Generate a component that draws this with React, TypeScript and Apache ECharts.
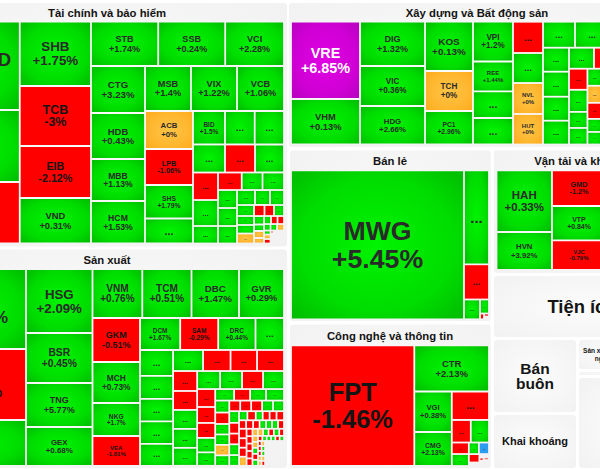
import React, { useEffect, useRef } from "react";
import * as echarts from "echarts";

const D = "...";
const FONT = '"Liberation Sans", Arial, sans-serif';

// Finance
const financeTickers = ["ID",null,null,"SHB","TCB","EIB","VND","STB","SSB","VCI","CTG","HDB","MBB","HCM","MSB","VIX","VCB","ACB","LPB","SHS",D,"BID",D,D,D,D,D,D,D,D,D,D,D,D,D,D,D,D,D,D,D,D,D,D,D,D,D,D,D,D,D,D,D,D,D,D,D,D,D,D,null,null];
const financeChanges = [1,1,-1,1.75,-3,-2.12,0.31,1.74,0.24,2.28,3.23,0.43,1.13,1.53,1.4,1.22,1.06,0,-1.06,1.79,1,1.5,1,1,1,-1,1,-1,1,1,-1,1,1,1,1,1,1,1,1,1,1,1,0,-1,-1,1,1,1,0,0,1,-1,-1,1,1,0,-1,1,0,-1,null,null];
const financeSizes = [7925,6462,5520,4581,4275,3705,3242,2977,2968,2605,2538,2484,2268,2295,2070,2070,2115,1824,1728,1608,1200,1072,995,982,896,840,812,688,650,438,415,364,376,342,342,332,270,225,210,187,153,145,170,115,105,110,85,65,70,55,56,52,52,42,26,29,29,42,45,9,30,136];
const financeRows = [3,4,3,4,3,4,3,3,3,3,3,3,4,3,4,3,4,2,2,1];

// Construction and real estate
const buildTickers = ["VRE","VHM","DIG","VIC","HDG","KOS","TCH","PC1","VPI","REE",D,D,D,D,"NVL","HUT",D,D,D,D,D,D,D,D,D,D,D,D,D,D,D,D,D,D,D,D,D,D,null];
const buildChanges = [6.85,0.13,1.32,0.36,2.66,0.13,0,2.96,1.2,1.44,1,1,-1,1,0,0,1,1,1,1,1,1,1,1,1,-1,1,1,-1,1,1,1,1,0,-1,1,1,1];
const buildSizes = [5334,3139,2880,2600,2503,2366,1920,1608,1592,1196,1064,1060,939,900,930,915,832,884,728,728,624,650,624,619,525,504,504,483,389,407,296,305,246,246,232,188,181,4790];
const buildRows = [2,3,3,4,4,4,4,4,4,5,1];

// Manufacturing
const makeTickers = ["%","%",null,"HSG","BSR","TNG","GEX","VNM","TCM","DBC","GVR","GKM","MCH","NKG","VEA","DCM","SAM","DRC",D,
  D,D,D,D,D, D,D,D,D, D,D,D,D,D, D,D,D,D, D,D,D,D,D, D,D,D,D, D,D,D,D,D,D, D,D,D,D,D, D,D,D,D,D, D,D,D,D,D,D, D,D,D,D,D,D,D, D,D,D,D, D,D,D,D,D, D,D,D,D,D,D, D,D,D,D,D, D,D,D,D,D,D, D,D,D,D,D, D,null, D,D,D,D, null];
const makeChanges = [1,-1,1,2.09,0.45,5.77,0.68,0.76,0.51,1.47,0.29,-0.51,0.73,1.7,-1.81,1.67,-0.29,0.44,1,
  1,1,1,1,1, 1,-1,-1,-1, -1,-1,1,1,1, 1,1,-1,1, -1,-1,-1,1,1, 1,-1,1,1, 1,-1,1,1,0,1, -1,-1,-1,1,1, 1,-1,-1,1,1, 1,-1,1,-1,-1,-1, -1,-1,-1,1,1,1,-1, -1,-1,-1,0, -1,-1,-1,-1,-1, 0,0,1,-1,1,-1, 0,0,1,-1,1, -1,1,1,1,-1,1, -1,-1,-1,0,0, 0,null, 1,1,0,-1, null];
const makeSizes = [7661,6816,4397,4243,3325,2926,2580,2430,2401,2318,2196,2090,1948,1568,1416,1286,1216,1194,912,
  858,759,743,743,726, 630,578,557,567, 480,456,456,456,432, 414,396,378,378, 324,288,270,261,243, 218,184,184,207, 168,161,147,147,147,147, 116,116,116,116,116, 114,105,105,105,105, 76,76,63,63,63,68, 60,60,55,55,51,51,51, 71,71,68,68, 44,44,44,44,44, 38,38,38,38,38,34, 33,33,33,33,33, 22,22,22,22,22,22, 17.5,17.5,17.5,17.5,17.5, 17.5,97.5, 17.5,17.5,17.5,17.5, 390];
const makeRows = [3,4,4,4,4,5,4,5,4,5,4,6,5,5,6,7,4,5,6,5,6,5,2,4,1];

// Retail
const retailTickers = ["MWG",D,D,D,D,D,D,null];
const retailChanges = [5.45,1,-1,1,1,-1,-1,null];
const retailSizes = [25777,2350,880,317,126,23,15,14];
const retailRows = [1,1,1,1,1,1,1,1];

// Technology
const techTickers = ["FPT","CTR","VGI","CMG",D,D,D,D,D,D,D,D,null,null,D,null,D,null];
const techChanges = [-1.46,2.13,0.38,2.13,-1,-1,1,-1,1,1,-7,-1,null,null,-1,null,-1,null];
const techSizes = [14882,3451,1519,1275,1060,428,410,196,204,116,117,89,37,34,13,23,13,33];
const techRows = [1,1,2,1,2,2,2,2,1,2,1,1];

// Transport
const transportTickers = ["HAH","HVN","GMD","VTP","VJC",D];
const transportChanges = [0.33,3.92,-1.2,0.84,-0.79,1];
const transportSizes = [3424,2109,1928,1852,1604,6181];
const transportRows = [2,3,1];

type Box = { x: number; y: number; w: number; h: number };
type Source = {
  tickers: (string | null)[];
  changes: (number | null)[];
  sizes: number[];
  rows: number[];
  box: Box;
  fragments?: Record<number, [number, number]>;
};

const sources: Source[] = [
  { tickers: financeTickers, changes: financeChanges, sizes: financeSizes, rows: financeRows, box: { x: -70, y: 21.7, w: 354, h: 221.8 }, fragments: { 0: [27, -6.5] } },
  { tickers: makeTickers, changes: makeChanges, sizes: makeSizes, rows: makeRows, box: { x: -70, y: 269.2, w: 354, h: 196.6 }, fragments: { 0: [22.7, 8], 1: [17.5, 8] } },
  { tickers: buildTickers, changes: buildChanges, sizes: buildSizes, rows: buildRows, box: { x: 291, y: 21.7, w: 374, h: 122.8 } },
  { tickers: retailTickers, changes: retailChanges, sizes: retailSizes, rows: retailRows, box: { x: 291, y: 170.3, w: 198, h: 149 } },
  { tickers: techTickers, changes: techChanges, sizes: techSizes, rows: techRows, box: { x: 291, y: 345.3, w: 198, h: 120.7 } },
  { tickers: transportTickers, changes: transportChanges, sizes: transportSizes, rows: transportRows, box: { x: 496.5, y: 170.3, w: 171.5, h: 99.7 } },
];

type Cell = { x0: number; y0: number; x1: number; y1: number; ticker: string | null; change: number; shift?: [number, number] };

function layout(src: Source): Cell[] {
  const out: Cell[] = [];
  let { x, y, w, h } = src.box;
  let idx = 0;
  src.rows.forEach((len, ri) => {
    const sizes = src.sizes.slice(idx, idx + len);
    const total = sizes.reduce((a, b) => a + b, 0);
    const horizontal = w <= h;
    const side = horizontal ? w : h;
    const thick = ri === src.rows.length - 1 ? (horizontal ? h : w) : total / side;
    let off = 0;
    sizes.forEach((a, i) => {
      const run = (a / total) * side;
      const change = src.changes[idx + i];
      if (change !== null && change !== undefined) {
        out.push({
          x0: horizontal ? x + off : x,
          y0: horizontal ? y : y + off,
          x1: horizontal ? x + off + run : x + thick,
          y1: horizontal ? y + thick : y + off + run,
          ticker: src.tickers[idx + i],
          change,
          shift: src.fragments ? src.fragments[idx + i] : undefined,
        });
      }
      off += run;
    });
    if (horizontal) { y += thick; h -= thick; } else { x += thick; w -= thick; }
    idx += len;
  });
  return out;
}

const cells: Cell[] = sources.flatMap(layout);

function radial(inner: string, mid: string, outer: string) {
  return new echarts.graphic.RadialGradient(0.5, 0.5, 0.7, [
    { offset: 0, color: inner },
    { offset: 0.65, color: mid },
    { offset: 1, color: outer },
  ]);
}

function fillOf(change: number) {
  if (change >= 6.8) return radial("#e000e4", "#cf00d4", "#b800c0");
  if (change <= -6.8) return "#2a9df0";
  if (change > 0) return radial("#00f400", "#00dc00", "#00bc00");
  if (change < 0) return "#ff0000";
  return radial("#ffc445", "#ffb62e", "#ffab1c");
}

function percent(change: number) {
  return (change >= 0 ? "+" : "") + change + "%";
}

function labelOf(cell: Cell) {
  if (!cell.ticker) return "";
  if (cell.ticker === D || cell.shift) return cell.ticker;
  return cell.ticker + "\n" + percent(cell.change);
}

const GAP = 0.9;

function renderItem(params: any, api: any) {
  const cell = cells[params.dataIndex];
  const a = api.coord([api.value(0), api.value(1)]);
  const b = api.coord([api.value(2), api.value(3)]);
  const x = a[0] + GAP;
  const y = a[1] + GAP;
  const w = Math.max(b[0] - a[0] - 2 * GAP, 0.5);
  const h = Math.max(b[1] - a[1] - 2 * GAP, 0.5);
  const children: any[] = [{ type: "rect", shape: { x, y, width: w, height: h }, style: { fill: fillOf(cell.change) } }];
  const text = labelOf(cell);
  const small = Math.min(w, h);
  if (text && (cell.ticker !== D || small >= 7)) {
    const fontSize = cell.ticker === D ? Math.min(16, Math.sqrt(w * h) * 0.33) : Math.min(26.7, small * 0.214);
    const shift = cell.shift || [0, 0];
    children.push({
      type: "text",
      style: {
        text,
        x: x + w / 2 + shift[0],
        y: y + h / 2 + shift[1],
        align: "center",
        verticalAlign: "middle",
        fontSize,
        lineHeight: fontSize * 1.04,
        fontWeight: "bold",
        fontFamily: FONT,
        fill: cell.change >= 6.8 ? "#ffffff" : cell.change < 0 ? "#141414" : "#2a2a2a",
      },
    });
  }
  return { type: "group", children };
}

const panelShade = () =>
  new echarts.graphic.RadialGradient(0.5, 0.5, 0.75, [
    { offset: 0, color: "#fcfcfc" },
    { offset: 1, color: "#f1f1f1" },
  ]);

function panel(x: number, y: number, width: number, height: number) {
  return { type: "rect", shape: { x, y, width, height, r: 3 }, style: { fill: panelShade() }, silent: true };
}

function title(text: string, x: number, y: number, fontSize = 11.3, lineHeight?: number) {
  return {
    type: "text",
    x,
    y,
    silent: true,
    style: { text, align: "center", verticalAlign: "middle", fontSize, lineHeight: lineHeight || fontSize * 1.1, fontWeight: "bold", fontFamily: FONT, fill: "#141414" },
  };
}

const graphics = [
  panel(-73, 3, 360, 243.5),
  panel(-73, 249.5, 360, 218.5),
  panel(289, 3, 379, 144),
  panel(290, 150.5, 200.7, 170.5),
  panel(290, 324.5, 200.7, 143.5),
  panel(494, 150.5, 178, 122.5),
  panel(494, 276, 178, 61),
  panel(494, 340, 82, 72),
  panel(494, 415, 82, 53),
  panel(579, 340, 53, 29),
  panel(579, 372, 93, 3),
  panel(579, 378, 93, 90),
  title("Tài chính và bảo hiểm", 107, 13),
  title("Sản xuất", 107, 260),
  title("Xây dựng và Bất động sản", 477, 13),
  title("Bán lẻ", 390, 161),
  title("Công nghệ và thông tin", 390, 336),
  title("Vận tải và kho bãi", 582, 161),
  title("Tiện ích", 582, 306, 18.4),
  title("Bán\nbuôn", 535, 376, 15.5, 15.6),
  title("Khai khoáng", 535, 441, 11),
  title("Sản xuất nông\nnghiệp", 605.5, 354.5, 6.5, 7.4),
];

export default function App() {
  const ref = useRef<HTMLDivElement>(null);
  useEffect(() => {
    const chart = echarts.init(ref.current!, null, { renderer: "svg" });
    chart.setOption({
      animation: false,
      backgroundColor: "#ffffff",
      grid: { left: 0, right: 0, top: 0, bottom: 0 },
      xAxis: { type: "value", min: 0, max: 600, show: false },
      yAxis: { type: "value", min: 0, max: 469, inverse: true, show: false },
      graphic: { elements: graphics },
      series: [
        {
          type: "custom",
          coordinateSystem: "cartesian2d",
          clip: false,
          silent: true,
          encode: { x: [0, 2], y: [1, 3] },
          data: cells.map((c) => [c.x0, c.y0, c.x1, c.y1, c.change]),
          renderItem,
        },
      ],
    });
    return () => chart.dispose();
  }, []);
  return <div ref={ref} style={{ position: "absolute", left: 0, top: 0, width: 600, height: 469 }} />;
}
